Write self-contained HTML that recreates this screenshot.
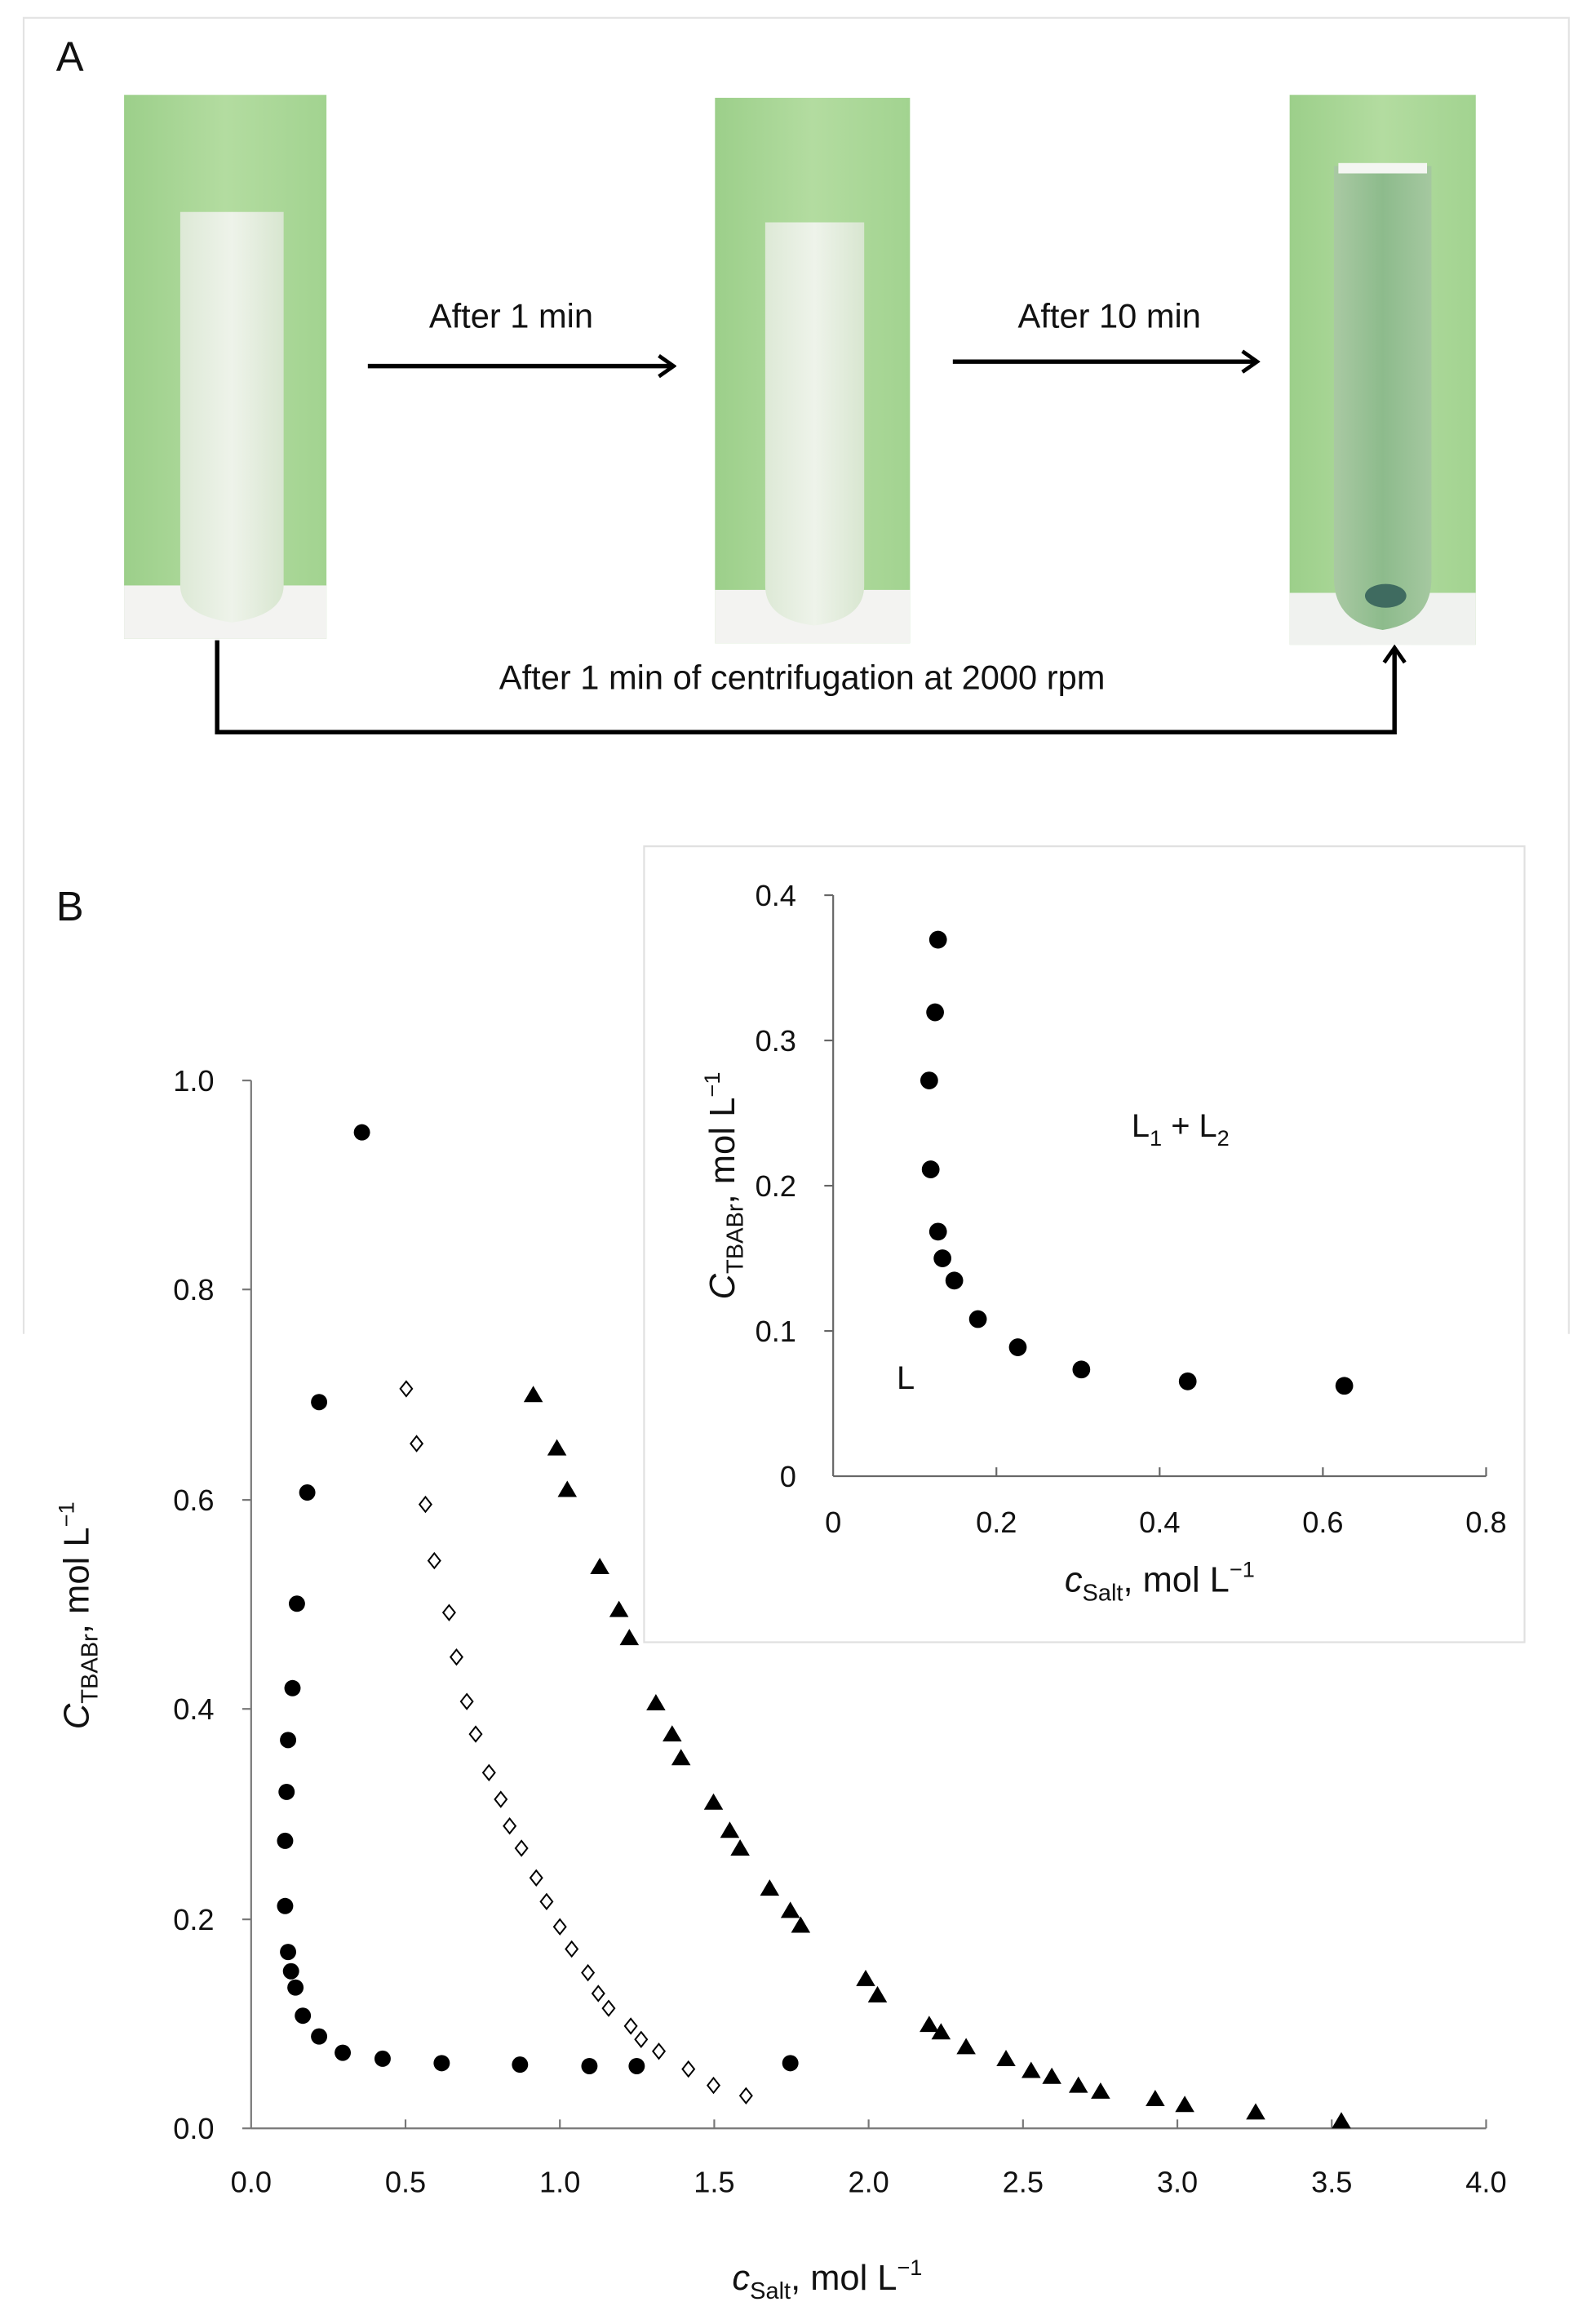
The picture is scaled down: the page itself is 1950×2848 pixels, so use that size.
<!DOCTYPE html>
<html><head><meta charset="utf-8"><style>
html,body{margin:0;padding:0;background:#fff;}
svg{display:block;}
text{font-family:"Liberation Sans",sans-serif;fill:#111;}
</style></head><body>
<svg width="1950" height="2848" viewBox="0 0 1077 1568" preserveAspectRatio="none" xmlns="http://www.w3.org/2000/svg">
<defs>
<linearGradient id="g1" x1="0" x2="1"><stop offset="0" stop-color="#9ccf8a"/><stop offset="0.5" stop-color="#b3dca0"/><stop offset="1" stop-color="#a2d390"/></linearGradient>
<linearGradient id="tw" x1="0" x2="1"><stop offset="0" stop-color="#dde9d6"/><stop offset="0.5" stop-color="#eef3ea"/><stop offset="1" stop-color="#d8e6d0"/></linearGradient>
<linearGradient id="tc" x1="0" x2="1"><stop offset="0" stop-color="#a9c9a3"/><stop offset="0.5" stop-color="#8dbb8c"/><stop offset="1" stop-color="#a5c8a0"/></linearGradient>
<marker id="ah" markerWidth="14" markerHeight="16" refX="12" refY="8" orient="auto" markerUnits="userSpaceOnUse"><path d="M2,1 L12,8 L2,15" fill="none" stroke="#000" stroke-width="2.6"/></marker>
</defs>
<path d="M16,900 L16,12 L1062,12 L1062,900" fill="none" stroke="#e3e3e3" stroke-width="1.2"/>
<text x="38" y="48" font-size="28">A</text>
<rect x="84" y="64" width="137" height="367" fill="url(#g1)"/>
<rect x="84" y="395" width="137" height="36" fill="#f3f3f1"/>
<path d="M122,143 L192,143 L192,395 Q192,415 157,420 Q122,415 122,395 Z" fill="url(#tw)"/>
<rect x="484" y="66" width="132" height="368" fill="url(#g1)"/>
<rect x="484" y="398" width="132" height="36" fill="#f3f3f1"/>
<path d="M518,150 L585,150 L585,395 Q585,418 551,422 Q518,418 518,395 Z" fill="url(#tw)"/>
<rect x="873" y="64" width="126" height="371" fill="url(#g1)"/>
<rect x="873" y="400" width="126" height="35" fill="#f0f2ef"/>
<path d="M903,112 L969,112 L969,390 Q969,420 936,425 Q903,420 903,390 Z" fill="url(#tc)"/>
<rect x="906" y="110" width="60" height="7" fill="#f4f6f2"/>
<ellipse cx="938" cy="402" rx="14" ry="8" fill="#3f6b60"/>
<line x1="249" y1="247" x2="456" y2="247" stroke="#000" stroke-width="3" marker-end="url(#ah)"/>
<line x1="645" y1="244" x2="851" y2="244" stroke="#000" stroke-width="3" marker-end="url(#ah)"/>
<text x="346" y="221" font-size="23" text-anchor="middle">After 1 min</text>
<text x="751" y="221" font-size="23" text-anchor="middle">After 10 min</text>
<path d="M147,432 L147,494 L944,494 L944,437" fill="none" stroke="#000" stroke-width="3" marker-end="url(#ah)"/>
<text x="543" y="465" font-size="23" text-anchor="middle">After 1 min of centrifugation at 2000 rpm</text>
<text x="38" y="621" font-size="28">B</text>

<g stroke="#777" stroke-width="1.2">
<line x1="170" y1="729" x2="170" y2="1436"/>
<line x1="170" y1="1436" x2="1006" y2="1436"/>
<line x1="164" y1="729" x2="170" y2="729"/><line x1="164" y1="870" x2="170" y2="870"/><line x1="164" y1="1012" x2="170" y2="1012"/><line x1="164" y1="1153" x2="170" y2="1153"/><line x1="164" y1="1295" x2="170" y2="1295"/><line x1="164" y1="1436" x2="170" y2="1436"/>
<line x1="274.5" y1="1436" x2="274.5" y2="1430"/><line x1="379" y1="1436" x2="379" y2="1430"/><line x1="483.5" y1="1436" x2="483.5" y2="1430"/><line x1="588" y1="1436" x2="588" y2="1430"/><line x1="692.5" y1="1436" x2="692.5" y2="1430"/><line x1="797" y1="1436" x2="797" y2="1430"/><line x1="901.5" y1="1436" x2="901.5" y2="1430"/><line x1="1006" y1="1436" x2="1006" y2="1430"/>
</g>
<g font-size="20" text-anchor="end">
<text x="145" y="736">1.0</text><text x="145" y="877">0.8</text><text x="145" y="1019">0.6</text><text x="145" y="1160">0.4</text><text x="145" y="1302">0.2</text><text x="145" y="1443">0.0</text>
</g>
<g font-size="20" text-anchor="middle">
<text x="170" y="1479">0.0</text><text x="274.5" y="1479">0.5</text><text x="379" y="1479">1.0</text><text x="483.5" y="1479">1.5</text><text x="588" y="1479">2.0</text><text x="692.5" y="1479">2.5</text><text x="797" y="1479">3.0</text><text x="901.5" y="1479">3.5</text><text x="1006" y="1479">4.0</text>
</g>
<text x="560" y="1545" font-size="24" text-anchor="middle"><tspan font-style="italic">c</tspan><tspan font-size="16" dy="6">Salt</tspan><tspan dy="-6">, mol L</tspan><tspan font-size="15" dy="-10">−1</tspan></text>
<text transform="translate(60,1090) rotate(-90)" font-size="24" text-anchor="middle"><tspan font-style="italic">C</tspan><tspan font-size="16" dy="6">TBABr</tspan><tspan dy="-6">, mol L</tspan><tspan font-size="15" dy="-10">−1</tspan></text>

<g fill="#000">
<circle cx="245" cy="764" r="5.5"/><circle cx="216" cy="946" r="5.5"/><circle cx="208" cy="1007" r="5.5"/><circle cx="201" cy="1082" r="5.5"/><circle cx="198" cy="1139" r="5.5"/><circle cx="195" cy="1174" r="5.5"/><circle cx="194" cy="1209" r="5.5"/><circle cx="193" cy="1242" r="5.5"/><circle cx="193" cy="1286" r="5.5"/><circle cx="195" cy="1317" r="5.5"/><circle cx="197" cy="1330" r="5.5"/><circle cx="200" cy="1341" r="5.5"/><circle cx="205" cy="1360" r="5.5"/><circle cx="216" cy="1374" r="5.5"/><circle cx="232" cy="1385" r="5.5"/><circle cx="259" cy="1389" r="5.5"/><circle cx="299" cy="1392" r="5.5"/><circle cx="352" cy="1393" r="5.5"/><circle cx="399" cy="1394" r="5.5"/><circle cx="431" cy="1394" r="5.5"/><circle cx="535" cy="1392" r="5.5"/>
</g>
<g fill="#fff" stroke="#000" stroke-width="1.1">
<path d="M275,932l4,5l-4,5l-4,-5z"/><path d="M282,969l4,5l-4,5l-4,-5z"/><path d="M288,1010l4,5l-4,5l-4,-5z"/><path d="M294,1048l4,5l-4,5l-4,-5z"/><path d="M304,1083l4,5l-4,5l-4,-5z"/><path d="M309,1113l4,5l-4,5l-4,-5z"/><path d="M316,1143l4,5l-4,5l-4,-5z"/><path d="M322,1165l4,5l-4,5l-4,-5z"/><path d="M331,1191l4,5l-4,5l-4,-5z"/><path d="M339,1209l4,5l-4,5l-4,-5z"/><path d="M345,1227l4,5l-4,5l-4,-5z"/><path d="M353,1242l4,5l-4,5l-4,-5z"/><path d="M363,1262l4,5l-4,5l-4,-5z"/><path d="M370,1278l4,5l-4,5l-4,-5z"/><path d="M379,1295l4,5l-4,5l-4,-5z"/><path d="M387,1310l4,5l-4,5l-4,-5z"/><path d="M398,1326l4,5l-4,5l-4,-5z"/><path d="M405,1340l4,5l-4,5l-4,-5z"/><path d="M412,1350l4,5l-4,5l-4,-5z"/><path d="M427,1362l4,5l-4,5l-4,-5z"/><path d="M434,1371l4,5l-4,5l-4,-5z"/><path d="M446,1379l4,5l-4,5l-4,-5z"/><path d="M466,1391l4,5l-4,5l-4,-5z"/><path d="M483,1402l4,5l-4,5l-4,-5z"/><path d="M505,1409l4,5l-4,5l-4,-5z"/>
</g>
<g fill="#000">
<path d="M361,935l6.5,11h-13z"/><path d="M377,971l6.5,11h-13z"/><path d="M384,999l6.5,11h-13z"/><path d="M406,1051l6.5,11h-13z"/><path d="M419,1080l6.5,11h-13z"/><path d="M426,1099l6.5,11h-13z"/><path d="M444,1143l6.5,11h-13z"/><path d="M455,1164l6.5,11h-13z"/><path d="M461,1180l6.5,11h-13z"/><path d="M483,1210l6.5,11h-13z"/><path d="M494,1229l6.5,11h-13z"/><path d="M501,1241l6.5,11h-13z"/><path d="M521,1268l6.5,11h-13z"/><path d="M535,1283l6.5,11h-13z"/><path d="M542,1293l6.5,11h-13z"/><path d="M586,1329l6.5,11h-13z"/><path d="M594,1340l6.5,11h-13z"/><path d="M629,1360l6.5,11h-13z"/><path d="M637,1365l6.5,11h-13z"/><path d="M654,1375l6.5,11h-13z"/><path d="M681,1383l6.5,11h-13z"/><path d="M698,1391l6.5,11h-13z"/><path d="M712,1395l6.5,11h-13z"/><path d="M730,1401l6.5,11h-13z"/><path d="M745,1405l6.5,11h-13z"/><path d="M782,1410l6.5,11h-13z"/><path d="M802,1414l6.5,11h-13z"/><path d="M850,1419l6.5,11h-13z"/><path d="M908,1425l6.5,11h-13z"/>
</g>

<rect x="436" y="571" width="596" height="537" fill="#fff" stroke="#e0e0e0" stroke-width="1.2"/>
<g stroke="#666" stroke-width="1.2">
<line x1="564" y1="604" x2="564" y2="996"/><line x1="564" y1="996" x2="1006" y2="996"/>
<line x1="558" y1="604" x2="564" y2="604"/><line x1="558" y1="702" x2="564" y2="702"/><line x1="558" y1="800" x2="564" y2="800"/><line x1="558" y1="898" x2="564" y2="898"/>
<line x1="674.5" y1="996" x2="674.5" y2="990"/><line x1="785" y1="996" x2="785" y2="990"/><line x1="895.5" y1="996" x2="895.5" y2="990"/><line x1="1006" y1="996" x2="1006" y2="990"/>
</g>
<g font-size="20" text-anchor="end">
<text x="539" y="611">0.4</text><text x="539" y="709">0.3</text><text x="539" y="807">0.2</text><text x="539" y="905">0.1</text><text x="539" y="1003">0</text>
</g>
<g font-size="20" text-anchor="middle">
<text x="564" y="1034">0</text><text x="674.5" y="1034">0.2</text><text x="785" y="1034">0.4</text><text x="895.5" y="1034">0.6</text><text x="1006" y="1034">0.8</text>
</g>
<text x="785" y="1074" font-size="24" text-anchor="middle"><tspan font-style="italic">c</tspan><tspan font-size="16" dy="6">Salt</tspan><tspan dy="-6">, mol L</tspan><tspan font-size="15" dy="-10">−1</tspan></text>
<text transform="translate(497,800) rotate(-90)" font-size="24" text-anchor="middle"><tspan font-style="italic">C</tspan><tspan font-size="16" dy="6">TBABr</tspan><tspan dy="-6">, mol L</tspan><tspan font-size="15" dy="-10">−1</tspan></text>
<text x="607" y="937" font-size="22">L</text>
<text x="766" y="767" font-size="22">L<tspan font-size="15" dy="6">1</tspan><tspan dy="-6"> + L</tspan><tspan font-size="15" dy="6">2</tspan></text>
<g fill="#000">
<circle cx="635" cy="634" r="6"/><circle cx="633" cy="683" r="6"/><circle cx="629" cy="729" r="6"/><circle cx="630" cy="789" r="6"/><circle cx="635" cy="831" r="6"/><circle cx="638" cy="849" r="6"/><circle cx="646" cy="864" r="6"/><circle cx="662" cy="890" r="6"/><circle cx="689" cy="909" r="6"/><circle cx="732" cy="924" r="6"/><circle cx="804" cy="932" r="6"/><circle cx="910" cy="935" r="6"/>
</g>
</svg>
</body></html>
